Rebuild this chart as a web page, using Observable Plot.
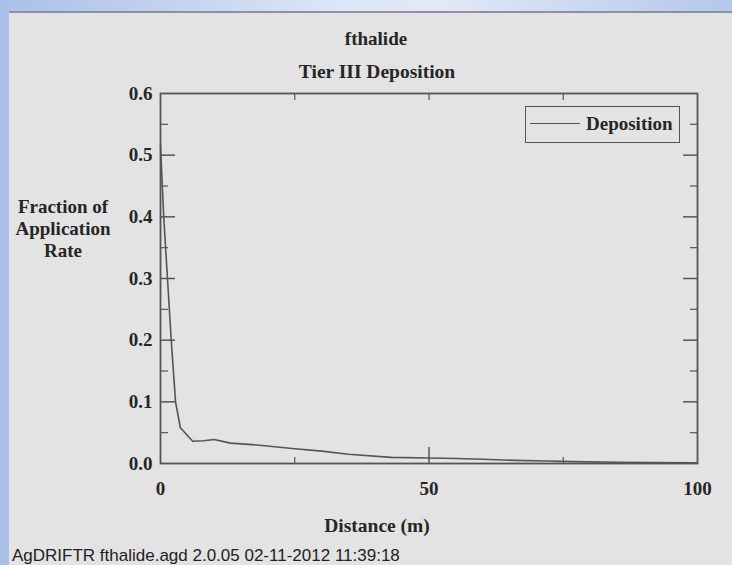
<!DOCTYPE html>
<html>
<head>
<meta charset="utf-8">
<script src="https://cdn.jsdelivr.net/npm/d3@7"></script>
<script src="https://cdn.jsdelivr.net/npm/@observablehq/plot@0.6"></script>
<style>
  html, body { margin: 0; padding: 0; }
  body { width: 732px; height: 565px; overflow: hidden; }
  #wrap { position: relative; width: 732px; height: 565px;
    background: #a9c0e8; overflow: hidden; }
  #topband { position: absolute; left: 0; top: 0; width: 732px; height: 11px;
    background: linear-gradient(to right, #a9c0e8 0%, #dbe5f5 45%, #e2e9f6 60%, #b3c8ea 100%); }
  #panel { position: absolute; left: 9px; top: 11px; width: 723px; height: 554px;
    background: #e3e3e3; border-top: 2px solid #8d91a3; box-sizing: border-box; }
  .t { position: absolute; font-family: "Liberation Serif", "Times New Roman", serif;
    font-weight: bold; color: #262626; white-space: nowrap; }
  #chart { position: absolute; left: 0; top: 0; }
  #legend { position: absolute; left: 525px; top: 106px; width: 155px; height: 37px;
    border: 1.5px solid #555; box-sizing: border-box; }
  #legline { position: absolute; left: 4px; top: 16px; width: 50px; height: 0;
    border-top: 1.5px solid #555; }
  #legtext { left: 60px; top: 7px; font-size: 19px; line-height: 19px; }
  #footer { position: absolute; left: 12px; top: 546px; font-family: "Liberation Sans", Arial, sans-serif;
    font-size: 17px; color: #222; white-space: nowrap; }
</style>
</head>
<body>
<div id="wrap">
  <div id="topband"></div>
  <div id="panel"></div>
  <div id="chart"></div>
  <div class="t" style="left:376px; top:28px; transform:translateX(-50%); font-size:19px;">fthalide</div>
  <div class="t" style="left:377px; top:61px; transform:translateX(-50%); font-size:19.5px;">Tier III Deposition</div>
  <div class="t" style="left:63px; top:196px; transform:translateX(-50%); font-size:19px; line-height:22px; text-align:center;">Fraction of<br>Application<br>Rate</div>
  <div class="t" style="left:377px; top:515px; transform:translateX(-50%); font-size:19.5px;">Distance (m)</div>
  <div id="legend"><div id="legline"></div><div class="t" id="legtext">Deposition</div></div>
  <div id="footer">AgDRIFTR fthalide.agd 2.0.05 02-11-2012 11:39:18</div>
</div>
<script>
// Data
const distance   = [0, 0.6, 1.3, 2.0, 2.8, 3.7, 6, 8, 10, 13, 18, 25, 30, 35, 43, 50, 55, 60, 66, 72, 77, 85, 91, 100];
const deposition = [0.516, 0.40, 0.30, 0.20, 0.10, 0.058, 0.036, 0.037, 0.039, 0.033, 0.030, 0.024, 0.020, 0.015, 0.010, 0.009, 0.008, 0.007, 0.005, 0.004, 0.003, 0.002, 0.0015, 0.001];

const yTickLabels = [0, 0.1, 0.2, 0.3, 0.4, 0.5, 0.6];
const yMajorTicks = [0.1, 0.2, 0.3, 0.4, 0.5];
const yMinorTicks = [0.05, 0.15, 0.25, 0.35, 0.45, 0.55];
const xTickLabels = [0, 50, 100];
const xMajorTicks = [50];
const xMinorTicks = [25, 75];

const data = distance.map((d, i) => ({distance: d, deposition: deposition[i]}));

const ink = "#555";
const font = {fontSize: 19, fontWeight: "bold", fill: "#262626"};

const chart = Plot.plot({
  width: 732,
  height: 565,
  marginLeft: 160,
  marginRight: 35,
  marginTop: 93,
  marginBottom: 102,
  x: {domain: [0, 100]},
  y: {domain: [0, 0.6]},
  style: {background: "transparent", fontFamily: "Liberation Serif, Times New Roman, serif", color: ink, overflow: "visible"},
  marks: [
    // tick labels
    Plot.axisY({anchor: "left", ticks: yTickLabels, tickSize: 0, tickPadding: 8, tickFormat: d => d.toFixed(1), label: null, ...font}),
    Plot.axisX({anchor: "bottom", ticks: xTickLabels, tickSize: 0, tickPadding: 18, tickFormat: d => String(d), label: null, ...font}),
    // inner ticks
    Plot.axisY({anchor: "left", ticks: yMajorTicks, tickSize: -15, tickFormat: () => "", label: null, stroke: ink, strokeWidth: 1.5}),
    Plot.axisY({anchor: "left", ticks: yMinorTicks, tickSize: -8, tickFormat: () => "", label: null, stroke: ink, strokeWidth: 1.2}),
    Plot.axisY({anchor: "right", ticks: yMajorTicks, tickSize: -15, tickFormat: () => "", label: null, stroke: ink, strokeWidth: 1.5}),
    Plot.axisY({anchor: "right", ticks: yMinorTicks, tickSize: -8, tickFormat: () => "", label: null, stroke: ink, strokeWidth: 1.2}),
    Plot.axisX({anchor: "bottom", ticks: xMajorTicks, tickSize: -16, tickFormat: () => "", label: null, stroke: ink, strokeWidth: 1.5}),
    Plot.axisX({anchor: "bottom", ticks: xMinorTicks, tickSize: -6, tickFormat: () => "", label: null, stroke: ink, strokeWidth: 1.2}),
    Plot.axisX({anchor: "top", ticks: xMinorTicks.concat(xMajorTicks), tickSize: -6, tickFormat: () => "", label: null, stroke: ink, strokeWidth: 1.2}),
    Plot.line(data, {x: "distance", y: "deposition", stroke: ink, strokeWidth: 1.6}),
    Plot.frame({stroke: ink, strokeWidth: 1.8})
  ]
});
document.getElementById("chart").appendChild(chart);
</script>
</body>
</html>
